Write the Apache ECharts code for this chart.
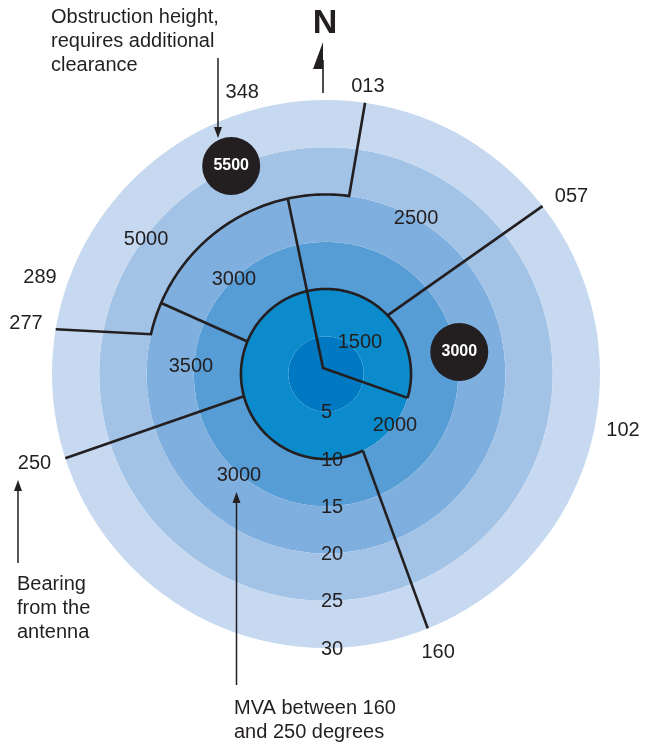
<!DOCTYPE html>
<html>
<head>
<meta charset="utf-8">
<title>MVA sectors</title>
<script src="https://cdn.jsdelivr.net/npm/echarts@6/dist/echarts.min.js"></script>
<style>
  html, body { margin: 0; padding: 0; background: #fff; }
  #chart { width: 654px; height: 744px; }
</style>
</head>
<body>
<div id="chart"></div>
<script>
// ring edges in nm from the antenna, fills inner to outer
const ringEdges = [5, 10, 15, 20, 25, 30];
const ringColors = ['#0079c2', '#0b8bcb', '#569cd5', '#7fafde', '#a2c2e6', '#c6d9f0'];

// sector boundaries as [nm, bearing] vertices.
// two vertices on the same ring get joined by an arc (bearings > 360 keep going clockwise past north)
const boundaryPaths = [
    [[20, 347.7], [1.7, 333.4], [10, 106.3]],
    [[10, 154.3], [10, 466.3]],
    [[10, 154.3], [30, 158.2]],
    [[10, 254.9], [30, 252.1]],
    [[10, 292.5], [20, 293.3]],
    [[10, 46.4], [30, 52.2]],
    [[30, 279.4], [20, 282.8], [20, 367.4], [30, 368.2]]
];

// minimum vectoring altitudes and where they sit [nm, bearing]
const mvaValues = ['5000', '3000', '2500', '1500', '3500', '2000', '3000'];
const mvaPos = [[24.75, 306.7], [15.0, 315.9], [20.06, 30.0], [5.87, 47.6], [15.31, 273.0], [10.14, 127.0], [15.19, 220.5]];

// bearing labels round the outside
const bearingLabels = ['348', '013', '057', '102', '160', '250', '277', '289'];
const bearingPos = [[32.04, 343.4], [31.7, 8.3], [33.04, 54.2], [32.99, 100.7], [32.82, 158.1], [33.26, 253.0], [33.19, 279.5], [32.96, 288.7]];

// obstructions
const obstructionHeights = ['5500', '3000'];
const obstructionPos = [[25.2, 335.5], [15.3, 80.6]];

const INK = '#231f20';
const FONT = '"Liberation Sans", Arial, Helvetica, sans-serif';

const chart = echarts.init(document.getElementById('chart'));

function pixelRadius(api, cs, nm) {
    const p = api.coord([nm, 0]);
    return Math.hypot(p[0] - cs.cx, p[1] - cs.cy);
}

function renderRing(params, api) {
    const cs = params.coordSys;
    const i = params.dataIndex;
    const inner = i === 0 ? 1 : ringEdges[i - 1];
    return {
        type: 'sector',
        shape: {
            cx: cs.cx, cy: cs.cy,
            r0: pixelRadius(api, cs, inner),
            r: pixelRadius(api, cs, ringEdges[i]),
            startAngle: 0, endAngle: Math.PI * 2
        },
        style: { fill: ringColors[i] }
    };
}

function renderBoundary(params, api) {
    const path = boundaryPaths[params.dataIndex];
    const points = [];
    path.forEach((v, k) => {
        const prev = path[k - 1];
        if (prev && prev[0] === v[0]) {
            // arc along the ring
            const steps = Math.ceil(Math.abs(v[1] - prev[1]));
            for (let s = 1; s <= steps; s++) {
                points.push(api.coord([v[0], prev[1] + (v[1] - prev[1]) * s / steps]));
            }
        } else {
            points.push(api.coord(v));
        }
    });
    return {
        type: 'polyline',
        shape: { points: points },
        style: { stroke: INK, lineWidth: 2.6, fill: null, lineJoin: 'miter' }
    };
}

function textRenderer(texts, opts) {
    return function (params, api) {
        const p = api.coord([api.value(0), api.value(1)]);
        return {
            type: 'text',
            x: p[0] + (opts.dx || 0),
            y: p[1] + (opts.dy || 0),
            style: {
                text: texts[params.dataIndex],
                fill: INK,
                font: '20px ' + FONT,
                align: opts.align || 'center',
                verticalAlign: 'middle'
            }
        };
    };
}

function arrow(x, y1, y2) {
    // shaft from y1 to the head at y2
    const dir = y2 > y1 ? 1 : -1;
    return [
        { type: 'line', z: 100, shape: { x1: x, y1: y1, x2: x, y2: y2 - dir * 8 }, style: { stroke: INK, lineWidth: 1.5 } },
        { type: 'polygon', z: 100, shape: { points: [[x, y2], [x - 4, y2 - dir * 11], [x + 4, y2 - dir * 11]] }, style: { fill: INK } }
    ];
}

const option = {
    animation: false,
    backgroundColor: '#fff',
    polar: { center: [326, 374], radius: 274 },
    angleAxis: {
        type: 'value', min: 0, max: 360, startAngle: 90, clockwise: true,
        axisLine: { show: false }, axisTick: { show: false }, axisLabel: { show: false }, splitLine: { show: false }
    },
    radiusAxis: {
        type: 'value', min: 1, max: 30,
        axisLine: { show: false }, axisTick: { show: false }, axisLabel: { show: false }, splitLine: { show: false }
    },
    graphic: [
        { type: 'text', z: 100, x: 325, y: 24, style: { text: 'N', font: 'bold 34px ' + FONT, fill: INK, align: 'center', verticalAlign: 'middle' } },
        { type: 'polygon', z: 100, shape: { points: [[323, 42], [313, 69], [323, 69]] }, style: { fill: INK } },
        { type: 'line', z: 100, shape: { x1: 323, y1: 60, x2: 323, y2: 93 }, style: { stroke: INK, lineWidth: 1.6 } },
        { type: 'text', z: 100, x: 51, y: 5, style: { text: 'Obstruction height,\nrequires additional\nclearance', font: '20px ' + FONT, lineHeight: 24, fill: INK } },
        { type: 'text', z: 100, x: 17, y: 572, style: { text: 'Bearing\nfrom the\nantenna', font: '20px ' + FONT, lineHeight: 24, fill: INK } },
        { type: 'text', z: 100, x: 234, y: 696, style: { text: 'MVA between 160\nand 250 degrees', font: '20px ' + FONT, lineHeight: 24, fill: INK } }
    ].concat(arrow(218, 58, 138), arrow(18, 563, 480), arrow(236.5, 685, 492)),
    series: [
        {
            type: 'custom', coordinateSystem: 'polar', z: 1,
            renderItem: renderRing,
            data: ringEdges.map(r => [r, 0])
        },
        {
            type: 'custom', coordinateSystem: 'polar', z: 3,
            renderItem: renderBoundary,
            data: boundaryPaths.map(p => p[0])
        },
        {
            type: 'scatter', coordinateSystem: 'polar', z: 4,
            symbolSize: 58,
            itemStyle: { color: INK, opacity: 1 },
            label: {
                show: true, position: 'inside',
                formatter: p => obstructionHeights[p.dataIndex],
                color: '#fff', fontWeight: 'bold', fontSize: 16, fontFamily: FONT
            },
            data: obstructionPos
        },
        {
            type: 'custom', coordinateSystem: 'polar', z: 5,
            renderItem: textRenderer(mvaValues, {}),
            data: mvaPos
        },
        {
            type: 'custom', coordinateSystem: 'polar', z: 5,
            renderItem: textRenderer(bearingLabels, {}),
            data: bearingPos
        },
        {
            // distance rings labelled down the south radial
            type: 'custom', coordinateSystem: 'polar', z: 5,
            renderItem: textRenderer(ringEdges.map(String), { align: 'left', dx: -5, dy: 1 }),
            data: ringEdges.map(r => [r, 180])
        }
    ]
};

chart.setOption(option);
</script>
</body>
</html>
